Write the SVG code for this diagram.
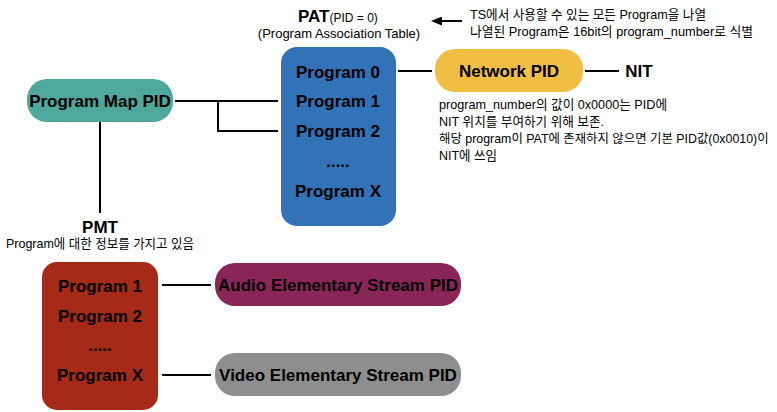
<svg xmlns="http://www.w3.org/2000/svg" width="777" height="412" viewBox="0 0 777 412">
<style>
.b{font-family:"Liberation Sans",Arial,"Noto Sans CJK KR",sans-serif;font-weight:bold;font-size:17px;fill:#000;text-anchor:middle}
.s{font-family:"Liberation Sans",Arial,"Noto Sans CJK KR",sans-serif;font-size:13px;fill:#000}
.ln{stroke:#000;stroke-width:2;fill:none}
</style>
<defs>
<marker id="ah" markerWidth="11" markerHeight="9" refX="0" refY="4.5" orient="auto" markerUnits="userSpaceOnUse">
<path d="M0,0 L11,4.5 L0,9 Z" fill="#000"/>
</marker>
</defs>
<rect width="777" height="412" fill="#fff"/>

<g id="pat-label">
<text x="298" y="22" class="s"><tspan style="font-weight:bold;font-size:17px">PAT</tspan><tspan style="font-size:12px">(PID = 0)</tspan></text>
<text x="339" y="38" class="s" text-anchor="middle">(Program Association Table)</text>
</g>

<g id="pat-note">
<text x="470" y="19" class="s" textLength="236" lengthAdjust="spacingAndGlyphs">TS에서 사용할 수 있는 모든 Program을 나열</text>
<text x="470" y="36" class="s" textLength="283" lengthAdjust="spacingAndGlyphs">나열된 Program은 16bit의 program_number로 식별</text>
</g>

<g id="pat">
<rect x="281" y="47" width="115" height="179" rx="16" fill="#3272B7"/>
<text x="338" y="78" class="b">Program 0</text>
<text x="338" y="107" class="b">Program 1</text>
<text x="338" y="137" class="b">Program 2</text>
<text x="338" y="167" class="b">.....</text>
<text x="338" y="197" class="b">Program X</text>
</g>

<g id="pmpid">
<rect x="27" y="79" width="146" height="43" rx="20" fill="#4EA89C"/>
<text x="100" y="107" class="b">Program Map PID</text>
</g>

<g id="netpid">
<rect x="435" y="49" width="148" height="43" rx="20" fill="#EFBE43"/>
<text x="509" y="77" class="b">Network PID</text>
</g>

<g id="nit">
<text x="639" y="77" class="b">NIT</text>
</g>

<g id="nit-note">
<text x="439" y="109" class="s" textLength="228" lengthAdjust="spacingAndGlyphs">program_number의 값이 0x0000는 PID에</text>
<text x="439" y="126" class="s" textLength="165" lengthAdjust="spacingAndGlyphs">NIT 위치를 부여하기 위해 보존.</text>
<text x="439" y="143" class="s" style="font-size:12.4px">해당 program이 PAT에 존재하지 않으면 기본 PID값(0x0010)이</text>
<text x="439" y="160" class="s" textLength="58" lengthAdjust="spacingAndGlyphs">NIT에 쓰임</text>
</g>

<g id="pmt-label">
<text x="100" y="233" class="b">PMT</text>
<text x="6" y="248" class="s" textLength="188" lengthAdjust="spacingAndGlyphs">Program에 대한 정보를 가지고 있음</text>
</g>

<g id="pmt">
<rect x="42" y="262" width="116" height="148" rx="15" fill="#A52A18"/>
<text x="100" y="292" class="b">Program 1</text>
<text x="100" y="322" class="b">Program 2</text>
<text x="100" y="351" class="b">.....</text>
<text x="100" y="381" class="b">Program X</text>
</g>

<g id="audio">
<rect x="215" y="263" width="246" height="43" rx="20" fill="#8A2558"/>
<text x="338" y="291" class="b">Audio Elementary Stream PID</text>
</g>

<g id="video">
<rect x="215" y="353" width="246" height="43" rx="20" fill="#8E8E8E"/>
<text x="338" y="381" class="b">Video Elementary Stream PID</text>
</g>

<g id="connectors">
<line x1="462" y1="21" x2="442" y2="21" class="ln" marker-end="url(#ah)"/>
<line x1="175" y1="101" x2="278" y2="101" class="ln"/>
<polyline points="218,101 218,131 278,131" class="ln"/>
<line x1="100" y1="122" x2="100" y2="213" class="ln"/>
<line x1="398" y1="71" x2="432" y2="71" class="ln"/>
<line x1="585" y1="71" x2="619" y2="71" class="ln"/>
<line x1="162" y1="285" x2="211" y2="285" class="ln"/>
<line x1="162" y1="375" x2="211" y2="375" class="ln"/>
</g>
</svg>
